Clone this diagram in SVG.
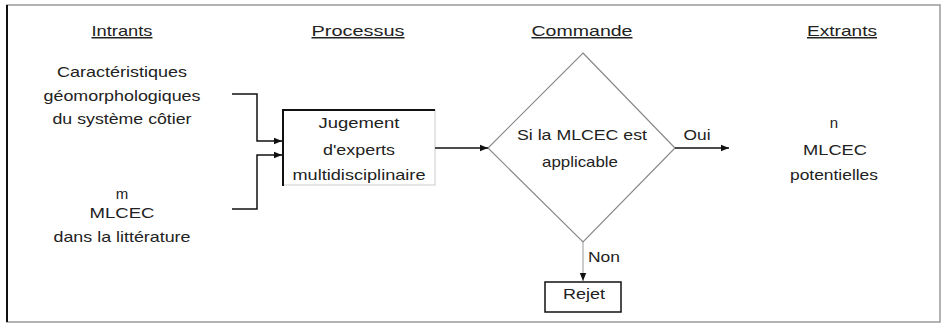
<svg xmlns="http://www.w3.org/2000/svg" width="942" height="324" viewBox="0 0 942 324">
<style>
text{font-family:"Liberation Sans",Arial,sans-serif;font-size:15px;fill:#222;text-anchor:middle}
.h{text-decoration:underline}
.c{fill:none;stroke:#111;stroke-width:1.5}
</style>
<defs>
<marker id="ah" viewBox="0 0 10 10" refX="10" refY="5" markerWidth="8" markerHeight="8" markerUnits="userSpaceOnUse" orient="auto">
<path d="M0,1 L10,5 L0,9 Z" fill="#111"/>
</marker>
</defs>
<rect x="0" y="0" width="942" height="324" fill="#fff"/>
<g id="frame">
<rect x="7" y="5" width="933" height="317" fill="none" stroke="#999" stroke-width="1.5"/>
<line x1="7" y1="5" x2="7" y2="322" stroke="#111" stroke-width="2"/>
</g>
<g id="headers">
<text class="h" x="122" y="36" textLength="61" lengthAdjust="spacingAndGlyphs">Intrants</text>
<text class="h" x="358" y="36" textLength="93" lengthAdjust="spacingAndGlyphs">Processus</text>
<text class="h" x="582" y="36" textLength="101" lengthAdjust="spacingAndGlyphs">Commande</text>
<text class="h" x="842" y="36" textLength="70" lengthAdjust="spacingAndGlyphs">Extrants</text>
</g>
<g id="input1">
<text x="122" y="77" textLength="130" lengthAdjust="spacingAndGlyphs">Caractéristiques</text>
<text x="122" y="101" textLength="157" lengthAdjust="spacingAndGlyphs">géomorphologiques</text>
<text x="122" y="124" textLength="139" lengthAdjust="spacingAndGlyphs">du système côtier</text>
</g>
<g id="input2">
<text x="122" y="199">m</text>
<text x="122" y="218" textLength="65" lengthAdjust="spacingAndGlyphs">MLCEC</text>
<text x="122" y="242" textLength="137" lengthAdjust="spacingAndGlyphs">dans la littérature</text>
</g>
<g id="process">
<rect x="283" y="110" width="152" height="75" fill="#fff" stroke="#ccc" stroke-width="1"/>
<polyline points="283,186 283,110 435,110" fill="none" stroke="#111" stroke-width="2"/>
<text x="359" y="128" textLength="81" lengthAdjust="spacingAndGlyphs">Jugement</text>
<text x="359" y="155" textLength="72" lengthAdjust="spacingAndGlyphs">d'experts</text>
<text x="359" y="180" textLength="133" lengthAdjust="spacingAndGlyphs">multidisciplinaire</text>
</g>
<g id="decision">
<polygon points="583,53 675,148 583,242 488,148" fill="#fff" stroke="#888" stroke-width="1.2"/>
<text x="582" y="140" textLength="130" lengthAdjust="spacingAndGlyphs">Si la MLCEC est</text>
<text x="580" y="167" textLength="76" lengthAdjust="spacingAndGlyphs">applicable</text>
</g>
<g id="output">
<text x="834" y="128">n</text>
<text x="835" y="155" textLength="64" lengthAdjust="spacingAndGlyphs">MLCEC</text>
<text x="834" y="180" textLength="88" lengthAdjust="spacingAndGlyphs">potentielles</text>
</g>
<g id="reject">
<rect x="545" y="282" width="76" height="30" fill="#fff" stroke="#111" stroke-width="1.5"/>
<text x="584" y="299" textLength="42" lengthAdjust="spacingAndGlyphs">Rejet</text>
</g>
<g id="connectors">
<polyline class="c" points="232,94 257,94 257,141 282,141" marker-end="url(#ah)"/>
<polyline class="c" points="232,209 257,209 257,155 282,155" marker-end="url(#ah)"/>
<line class="c" x1="435" y1="148" x2="488" y2="148" marker-end="url(#ah)"/>
<line class="c" x1="675" y1="148" x2="729" y2="148" marker-end="url(#ah)"/>
<line x1="583" y1="242" x2="583" y2="281" stroke="#bbb" stroke-width="1.5" marker-end="url(#ah)"/>
<text x="697" y="140" textLength="27" lengthAdjust="spacingAndGlyphs">Oui</text>
<text x="604" y="262" textLength="32" lengthAdjust="spacingAndGlyphs">Non</text>
</g>
</svg>
